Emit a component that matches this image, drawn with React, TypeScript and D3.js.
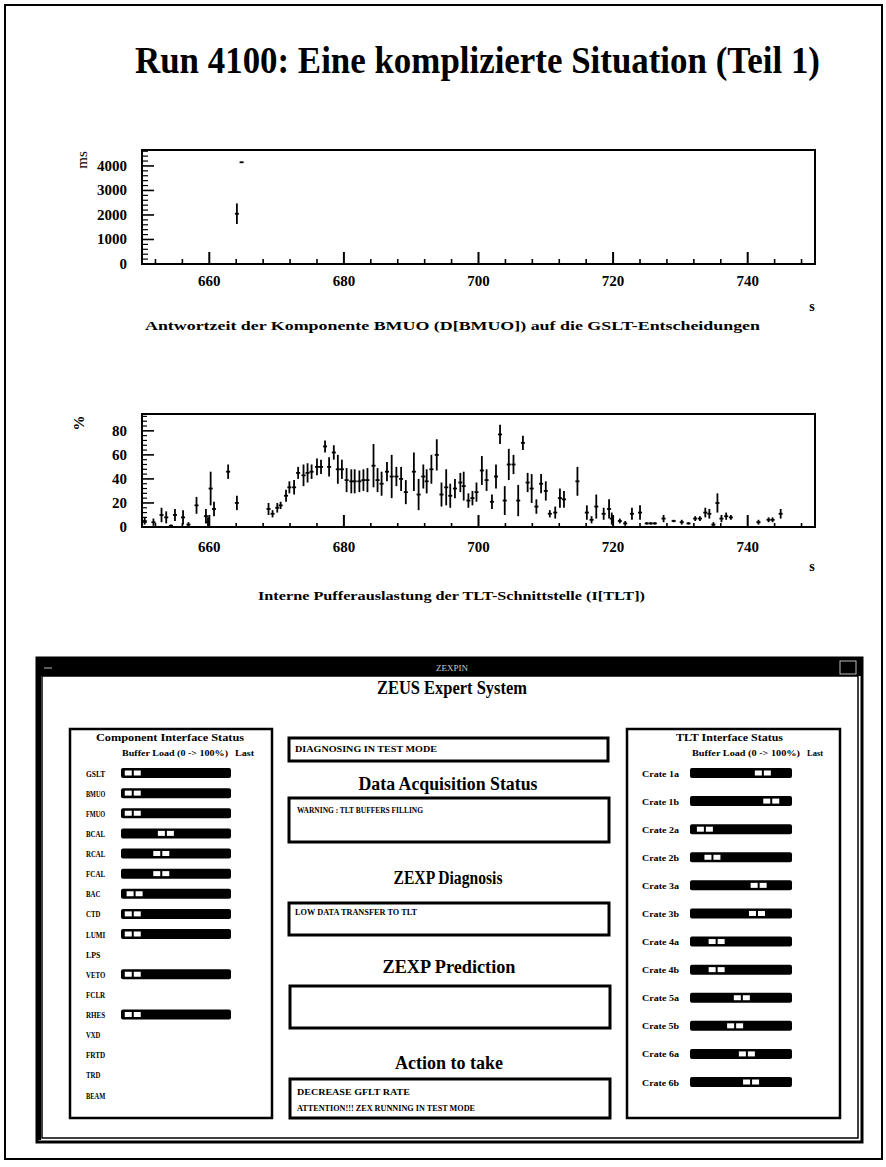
import React from "react";
import * as d3 from "d3";

const FONT = "'Liberation Serif', 'Times New Roman', Times, serif";

// upper plot: response time of BMUO (ms) against run time (s)
const respTime = [664.1, 664.8];
const respMs = [2050, 4150];
const respErr = [420, 0];

// lower plot: TLT buffer load (%) against run time (s)
const loadTime = [
  650.4, 651.7, 652.9, 653.6, 654.3, 654.9, 656.1, 656.9, 658.1, 659.5, 659.8, 660.2, 660.7, 662.8, 664.1,
  668.8, 669.4, 670.1, 670.6, 671.4, 671.9, 672.6, 673.2, 674.0, 674.6, 675.2, 676.0, 676.6, 677.2, 677.8,
  678.5, 679.1, 679.7, 680.4, 681.1, 681.6, 682.3, 682.9, 683.5, 684.4, 685.0, 685.6, 686.4, 687.1, 687.8,
  688.5, 689.2, 690.4, 691.1, 691.8, 692.3, 693.0, 693.8, 694.5, 695.2, 695.8, 696.5, 697.3, 697.8, 698.5,
  699.1, 699.7, 700.5, 701.2, 702.0, 702.6, 703.2, 703.9, 704.5, 705.2, 705.9, 706.6, 707.3, 707.9, 708.6,
  709.3, 710.0, 710.6, 711.4, 712.1, 712.7, 714.7, 716.1, 716.8, 717.5, 718.6, 719.4, 719.8, 721.0, 721.8,
  722.8, 724.0, 725.0, 725.6, 726.2, 727.5, 729.0, 730.2, 731.2, 732.2, 732.9, 733.7, 734.3, 734.9, 735.5,
  736.1, 736.8, 737.5, 741.6, 743.1, 743.7, 744.9,
];
const loadPct = [
  5, 4, 10, 8, 1, 10, 8, 2, 18, 9, 4, 32, 15, 46, 20,
  15, 11, 16, 18, 26, 33, 33, 45, 43, 45, 46, 50, 50, 67, 50,
  62, 48, 48, 39, 38, 38, 38, 39, 39, 51, 39, 36, 46, 42, 42,
  40, 29, 46, 27, 42, 38, 48, 60, 27, 33, 26, 32, 37, 34, 22,
  24, 29, 47, 39, 21, 42, 77, 22, 52, 52, 22, 70, 37, 32, 17,
  36, 30, 11, 12, 24, 23, 38, 12, 6, 17, 11, 15, 7, 5, 3,
  11, 12, 3, 3, 3, 7, 5, 4, 3, 7, 7, 12, 11, 2, 20,
  7, 9, 8, 4, 6, 6, 11,
];
const loadErr = [
  3, 3, 6, 5, 1, 5, 6, 2, 7, 6, 4, 14, 6, 6, 6,
  5, 3, 4, 3, 5, 5, 6, 5, 9, 8, 6, 7, 6, 5, 8,
  6, 12, 8, 10, 10, 10, 9, 9, 10, 18, 10, 10, 8, 18, 8,
  10, 10, 16, 13, 10, 10, 12, 13, 10, 15, 10, 8, 8, 12, 6,
  6, 8, 12, 9, 6, 10, 8, 12, 13, 8, 13, 6, 8, 12, 6,
  8, 8, 3, 5, 8, 7, 12, 6, 3, 10, 5, 8, 5, 2, 2,
  5, 6, 1, 1, 1, 3, 1, 2, 1, 2, 2, 4, 4, 2, 8,
  3, 3, 2, 2, 2, 2, 4,
];

const xMajor = [660, 680, 700, 720, 740];
const respTicks = [0, 1000, 2000, 3000, 4000];
const loadTicks = [0, 20, 40, 60, 80];

// ZEUS expert system panel
const components = ["GSLT", "BMUO", "FMUO", "BCAL", "RCAL", "FCAL", "BAC", "CTD", "LUMI", "LPS", "VETO", "FCLR", "RHES", "VXD", "FRTD", "TRD", "BEAM"];
const componentLoad = [3, 3, 3, 39, 34, 34, 5, 3, 3, null, 3, null, 3, null, null, null, null];
const crates = ["Crate 1a", "Crate 1b", "Crate 2a", "Crate 2b", "Crate 3a", "Crate 3b", "Crate 4a", "Crate 4b", "Crate 5a", "Crate 5b", "Crate 6a", "Crate 6b"];
const crateLoad = [76, 86, 7, 16, 71, 69, 21, 21, 51, 43, 57, 62];

const T = ({ x, y, size, len, anchor = "start", bold = true, children, fill = "#000", transform }: any) => (
  <text x={x} y={y} fontSize={size} fontWeight={bold ? "bold" : "normal"} fontFamily={FONT} textAnchor={anchor}
    textLength={len} lengthAdjust={len ? "spacingAndGlyphs" : undefined} fill={fill} transform={transform}>
    {children}
  </text>
);

function Histo({ top, bottom, yMax, yMinorStep, yTicks, times, vals, errs, majorLen, minorLen, yMajorLen, yMinorLen, labelY }: any) {
  const x = d3.scaleLinear().domain([650, 750]).range([142, 815]);
  const y = d3.scaleLinear().domain([0, yMax]).range([bottom, top]);
  const xMinor = d3.range(652, 750, 4).filter((v) => !xMajor.includes(v));
  const yMinor = d3.range(0, yMax, yMinorStep).filter((v) => !yTicks.includes(v));
  return (
    <g stroke="#000" fill="none">
      <rect x={142} y={top} width={673} height={bottom - top} strokeWidth={2} />
      {xMajor.map((v) => <line key={"M" + v} x1={x(v)} x2={x(v)} y1={bottom} y2={bottom - majorLen} strokeWidth={2} />)}
      {xMinor.map((v) => <line key={"m" + v} x1={x(v)} x2={x(v)} y1={bottom} y2={bottom - minorLen} strokeWidth={1.6} />)}
      {yTicks.map((v: number) => <line key={"Y" + v} x1={142} x2={142 + yMajorLen} y1={y(v)} y2={y(v)} strokeWidth={1.6} />)}
      {yMinor.map((v: number) => <line key={"y" + v} x1={142} x2={142 + yMinorLen} y1={y(v)} y2={y(v)} strokeWidth={1.2} />)}
      {times.map((t: number, i: number) => (
        <g key={"p" + i} strokeWidth={1.8}>
          <line x1={x(t)} x2={x(t)} y1={y(Math.max(0, vals[i] - errs[i]))} y2={y(vals[i] + errs[i]) - 0.01} />
          <line x1={x(t - 0.3)} x2={x(t + 0.3)} y1={y(vals[i])} y2={y(vals[i])} />
        </g>
      ))}
      <g stroke="none" fill="#000">
        {xMajor.map((v) => <T key={"l" + v} x={x(v)} y={labelY} size={15} anchor="middle">{v}</T>)}
        {yTicks.map((v: number) => <T key={"L" + v} x={127} y={y(v) + 5} size={15} anchor="end">{v}</T>)}
      </g>
    </g>
  );
}

function LoadBar({ x0, x1, cy, value }: any) {
  const s = d3.scaleLinear().domain([0, 100]).range([x0 + 9, x1 - 9]);
  const c = s(value);
  return (
    <g>
      <rect x={x0} y={cy - 5} width={x1 - x0} height={10} rx={2} fill="#000" />
      <rect x={c - 8} y={cy - 2.5} width={7} height={5} fill="#fff" />
      <rect x={c + 1} y={cy - 2.5} width={7} height={5} fill="#fff" />
    </g>
  );
}

export default function App() {
  const compY = d3.scalePoint().domain(components).range([773, 1095]);
  const crateY = d3.scalePoint().domain(crates).range([773, 1082]);
  return (
    <svg width={886} height={1167} style={{ position: "absolute", left: 0, top: 0, background: "#fff" }}>
      <rect x={0} y={0} width={886} height={1167} fill="#fff" />
      <rect x={5} y={5} width={877} height={1154} fill="none" stroke="#000" strokeWidth={2} />

      <T x={135} y={73} size={38} len={685}>Run 4100: Eine komplizierte Situation (Teil 1)</T>

      <Histo top={150} bottom={264} yMax={4650} yMinorStep={200} yTicks={respTicks} times={respTime} vals={respMs} errs={respErr}
        majorLen={12} minorLen={5} yMajorLen={12} yMinorLen={6} labelY={286} />
      <T x={87} y={160} size={15} bold={false} anchor="middle" transform="rotate(-90 87 160)">ms</T>
      <T x={812} y={311} size={14} anchor="middle">s</T>
      <T x={145} y={330} size={13} len={615}>Antwortzeit der Komponente BMUO (D[BMUO]) auf die GSLT-Entscheidungen</T>

      <Histo top={414} bottom={527} yMax={94} yMinorStep={4} yTicks={loadTicks} times={loadTime} vals={loadPct} errs={loadErr}
        majorLen={12} minorLen={4} yMajorLen={12} yMinorLen={5} labelY={552} />
      <T x={84} y={423} size={15} anchor="middle" transform="rotate(-90 84 423)">%</T>
      <T x={812} y={571} size={14} anchor="middle">s</T>
      <T x={258} y={600} size={13} len={387}>Interne Pufferauslastung der TLT-Schnittstelle (I[TLT])</T>

      {/* ZEUS expert system window */}
      <rect x={37} y={658} width={825} height={484} fill="#fff" stroke="#000" strokeWidth={3} />
      <rect x={37} y={658} width={825} height={18} fill="#000" />
      <line x1={39} x2={39} y1={676} y2={1140} stroke="#000" strokeWidth={4} />
      <line x1={44} x2={52} y1={668} y2={668} stroke="#bbb" strokeWidth={1} />
      <rect x={840} y={661} width={16} height={13} fill="none" stroke="#bbb" strokeWidth={1} />
      <T x={452} y={671} size={9} bold={false} anchor="middle" fill="#ccc">ZEXPIN</T>
      <rect x={42} y={676} width={816} height={462} fill="none" stroke="#000" strokeWidth={1.5} />
      <T x={452} y={694} size={18} anchor="middle" len={150}>ZEUS Expert System</T>

      <rect x={70} y={729} width={202} height={389} fill="none" stroke="#000" strokeWidth={2.5} />
      <T x={96} y={741} size={10} len={148}>Component Interface Status</T>
      <T x={122} y={756} size={8} len={106}>Buffer Load (0 -&gt; 100%)</T>
      <T x={235} y={756} size={8} len={19}>Last</T>
      {components.map((c, i) => (
        <g key={c}>
          <T x={86} y={(compY(c) as number) + 3.5} size={9} len={c.length * 4.8}>{c}</T>
          {componentLoad[i] != null && <LoadBar x0={121} x1={231} cy={compY(c)} value={componentLoad[i]} />}
        </g>
      ))}

      <rect x={627} y={729} width={213} height={389} fill="none" stroke="#000" strokeWidth={2.5} />
      <T x={676} y={741} size={10} len={107}>TLT Interface Status</T>
      <T x={692} y={756} size={8} len={108}>Buffer Load (0 -&gt; 100%)</T>
      <T x={807} y={756} size={8} len={16}>Last</T>
      {crates.map((c, i) => (
        <g key={c}>
          <T x={642} y={(crateY(c) as number) + 3.5} size={9} len={37}>{c}</T>
          <LoadBar x0={690} x1={792} cy={crateY(c)} value={crateLoad[i]} />
        </g>
      ))}

      <g fill="none" stroke="#000" strokeWidth={3}>
        <rect x={289} y={738} width={319} height={23} />
        <rect x={289} y={798} width={320} height={44} />
        <rect x={289} y={903} width={320} height={32} />
        <rect x={290} y={986} width={320} height={42} />
        <rect x={290} y={1079} width={320} height={39} />
      </g>
      <T x={295} y={752} size={8} len={142}>DIAGNOSING IN TEST MODE</T>
      <T x={448} y={790} size={18} anchor="middle" len={179}>Data Acquisition Status</T>
      <T x={297} y={813} size={8} len={126}>WARNING : TLT BUFFERS FILLING</T>
      <T x={448} y={884} size={18} anchor="middle" len={109}>ZEXP Diagnosis</T>
      <T x={295} y={915} size={8} len={122}>LOW DATA TRANSFER TO TLT</T>
      <T x={449} y={973} size={18} anchor="middle" len={133}>ZEXP Prediction</T>
      <T x={449} y={1069} size={18} anchor="middle" len={108}>Action to take</T>
      <T x={297} y={1095} size={8} len={113}>DECREASE GFLT RATE</T>
      <T x={297} y={1111} size={8} len={178}>ATTENTION!!! ZEX RUNNING IN TEST MODE</T>
    </svg>
  );
}
